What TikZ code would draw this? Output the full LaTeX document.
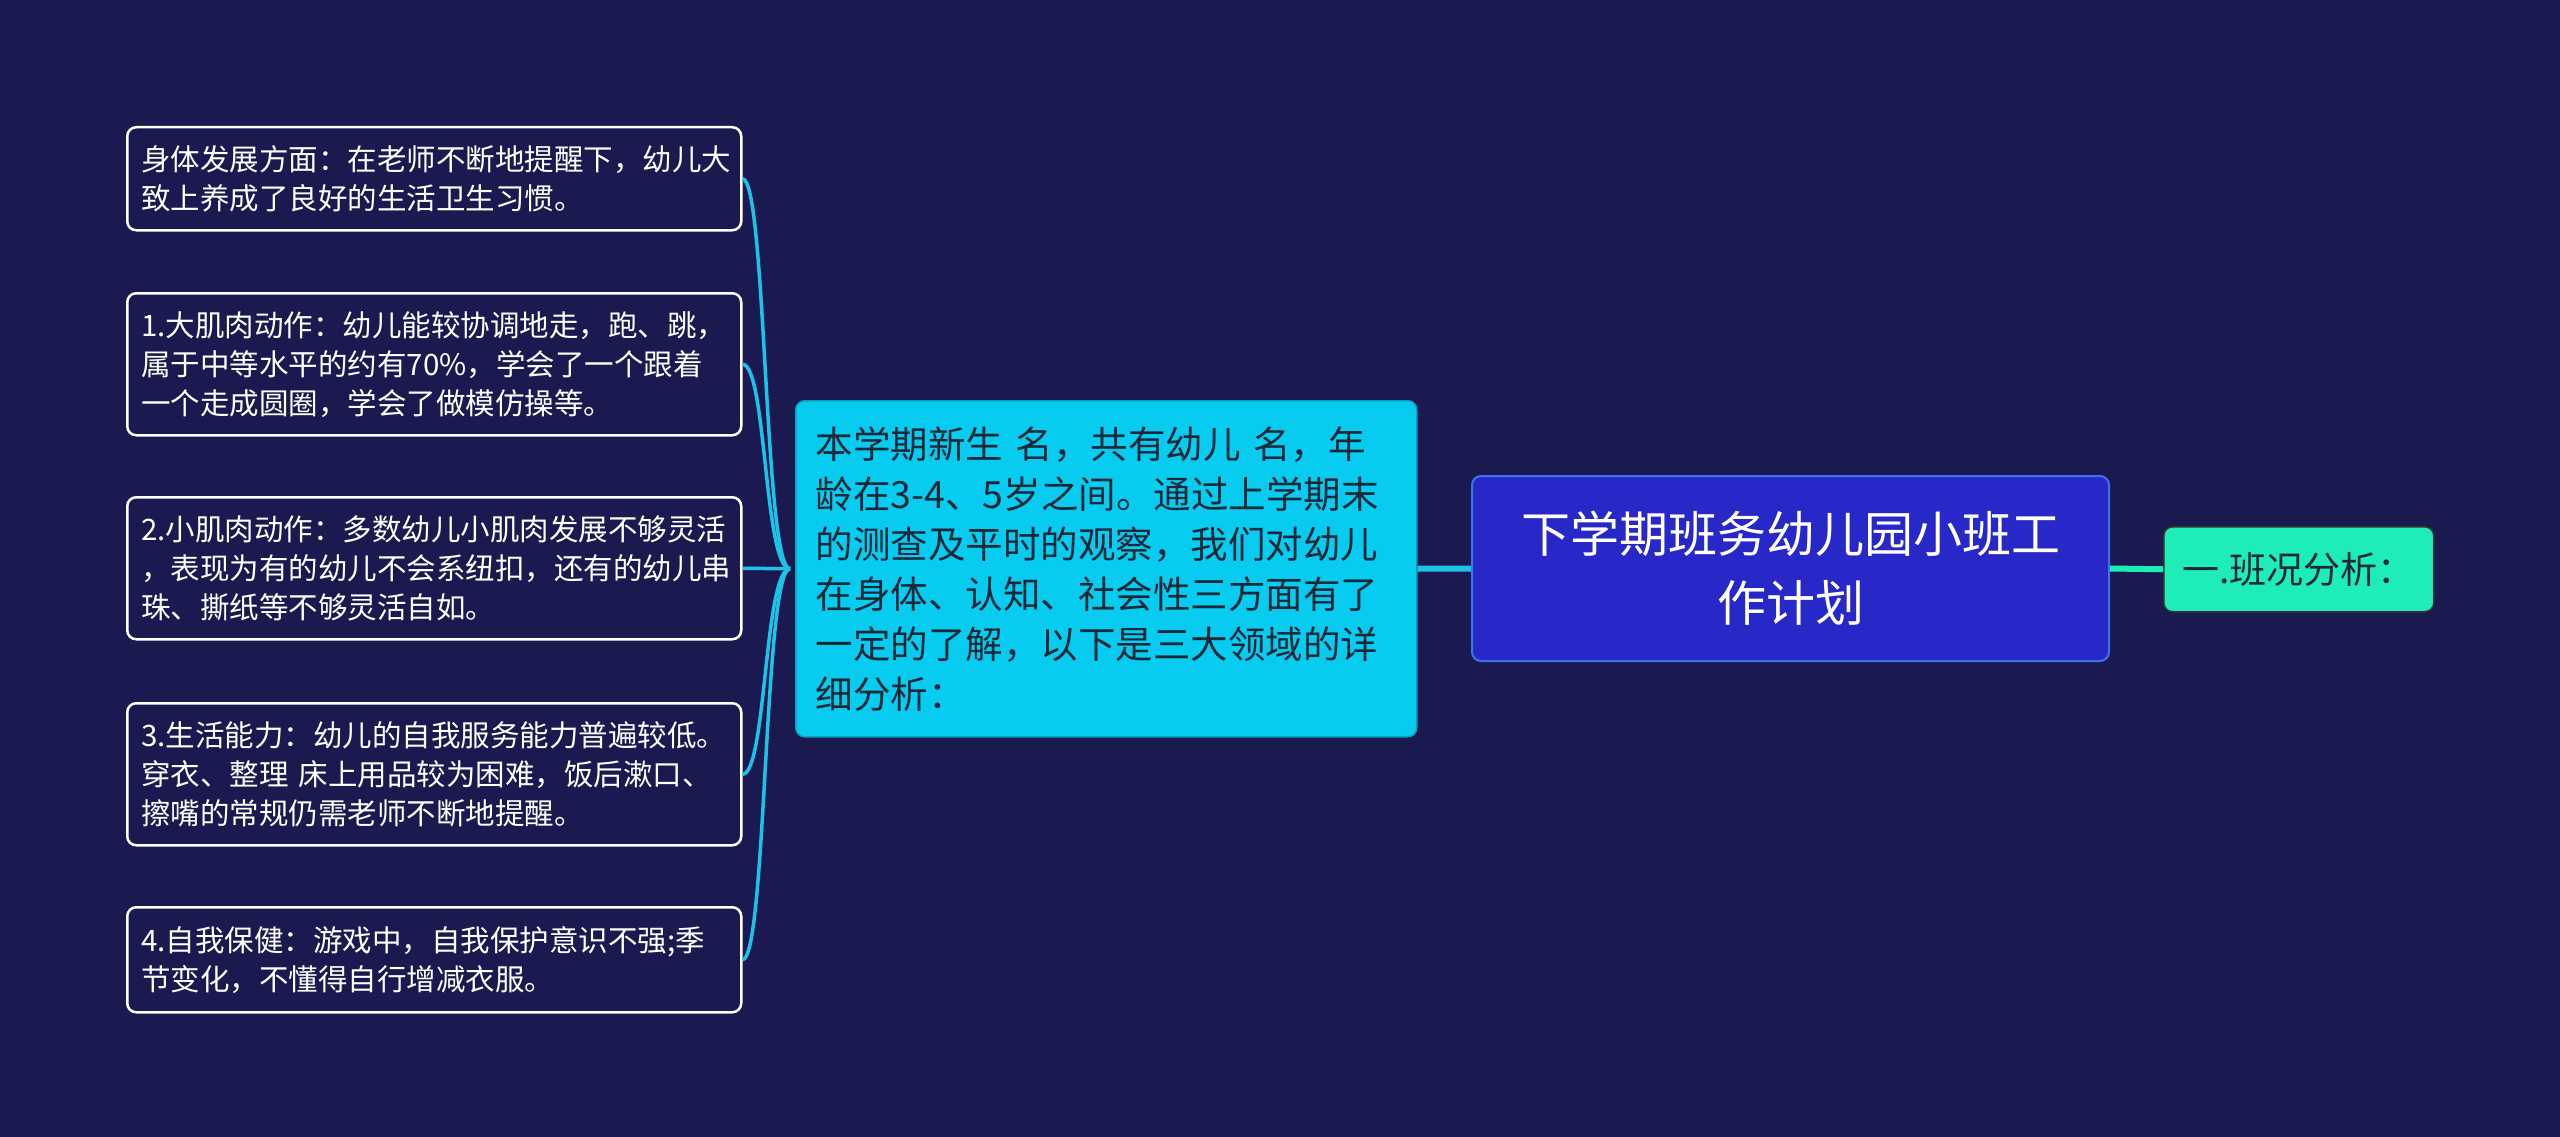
\documentclass[tikz,border=0pt]{standalone}
\usepackage{fontspec}
\setmainfont{Noto Sans CJK SC}
\definecolor{bgnavy}{HTML}{1B1A50}
\definecolor{hubcyan}{HTML}{08CBF0}
\definecolor{rootblue}{HTML}{2828C8}
\definecolor{rootedge}{HTML}{3E72EA}
\definecolor{mint}{HTML}{1EEDB7}
\definecolor{inkdark}{HTML}{1B2838}
\definecolor{linkcyan}{HTML}{1CC3E6}
\begin{document}
\begin{tikzpicture}[x=1pt, y=-1pt,
  leafbox/.style={draw=white, line width=2.5pt, fill=bgnavy, rounded corners=9pt,
    text=white, align=left, anchor=north west, text width=586pt, inner xsep=14pt,
    inner ysep=0pt, font=\fontsize{29.5}{39}\selectfont},
  midbox/.style={draw=hubcyan!80!black, line width=1.5pt, fill=hubcyan, rounded corners=9pt,
    text=inkdark, align=left, anchor=north west, text width=581pt, inner xsep=20pt,
    inner ysep=0pt, minimum height=336pt, font=\fontsize{37.5}{50}\selectfont},
  rootbox/.style={draw=rootedge, line width=2pt, fill=rootblue, rounded corners=9pt,
    text=white, align=center, anchor=north west, minimum width=637pt, minimum height=185pt,
    font=\fontsize{49}{69}\selectfont},
  tagbox/.style={draw=black!80, line width=1.5pt, fill=mint, rounded corners=9pt,
    text=inkdark, align=center, anchor=north west, minimum width=270pt, minimum height=85pt,
    font=\fontsize{37}{44}\selectfont},
  branch/.style={draw=linkcyan, line width=3.5pt},
  trunk/.style={line width=6pt}]
  \fill[bgnavy] (0,0) rectangle (2560,1137);
  \useasboundingbox (0,0) rectangle (2560,1137);

  \node[leafbox, minimum height=103pt] (l1) at (126,126)
    {身体发展方面：在老师不断地提醒下，幼儿大\\致上养成了良好的生活卫生习惯。};
  \node[leafbox, minimum height=142pt] (l2) at (126,292)
    {1.大肌肉动作：幼儿能较协调地走，跑、跳，\\属于中等水平的约有70\%，学会了一个跟着\\一个走成圆圈，学会了做模仿操等。};
  \node[leafbox, minimum height=142pt] (l3) at (126,496)
    {2.小肌肉动作：多数幼儿小肌肉发展不够灵活\\，表现为有的幼儿不会系纽扣，还有的幼儿串\\珠、撕纸等不够灵活自如。};
  \node[leafbox, minimum height=142pt] (l4) at (126,702)
    {3.生活能力：幼儿的自我服务能力普遍较低。\\穿衣、整理 床上用品较为困难，饭后漱口、\\擦嘴的常规仍需老师不断地提醒。};
  \node[leafbox, minimum height=105pt] (l5) at (126,906)
    {4.自我保健：游戏中，自我保护意识不强;季\\节变化，不懂得自行增减衣服。};

  \node[midbox] (mid) at (795,400)
    {本学期新生 名，共有幼儿 名，年\\龄在3-4、5岁之间。通过上学期末\\的测查及平时的观察，我们对幼儿\\在身体、认知、社会性三方面有了\\一定的了解，以下是三大领域的详\\细分析：};
  \node[rootbox] (root) at (1471,475) {下学期班务幼儿园小班工\\作计划};
  \node[tagbox] (tag) at (2163,526) {一.班况分析：};

  \coordinate (hub) at ([xshift=-5pt]mid.west);
  \foreach \n in {l1,l2,l3,l4,l5}
    \draw[branch] (\n.east) .. controls ([xshift=24pt]\n.east) and ([xshift=-26pt]hub) .. (hub);
  \draw[trunk, linkcyan] (mid.east) -- (root.west);
  \draw[trunk, mint] (root.east) -- (tag.west);
\end{tikzpicture}
\end{document}
